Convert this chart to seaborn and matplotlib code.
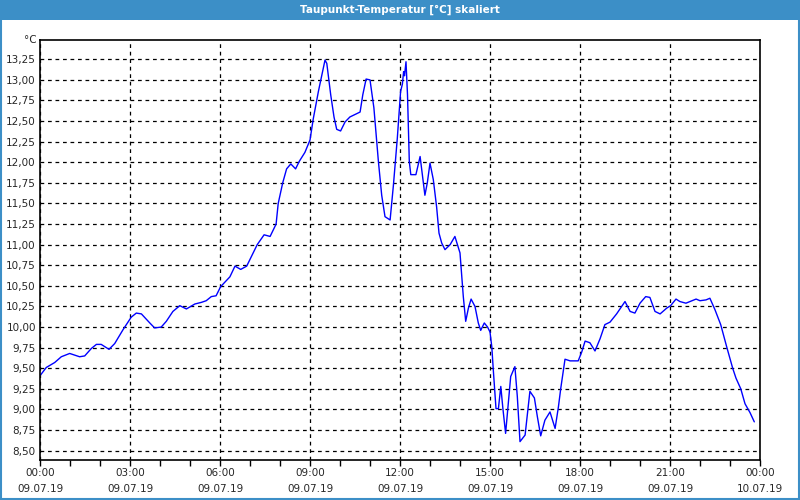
import matplotlib
matplotlib.use("Agg")
import matplotlib.pyplot as plt
from matplotlib.patches import Rectangle
from matplotlib.ticker import MultipleLocator, FixedLocator
import seaborn as sns
import pandas as pd

# time in hours since 09.07.19 00:00
hours = [
    0.00, 0.21, 0.49, 0.71, 0.99, 1.32, 1.49, 1.71, 1.88, 2.04, 2.30, 2.49, 2.77,
    3.04, 3.21, 3.38, 3.66, 3.82, 4.04, 4.21, 4.43, 4.66, 4.88, 5.16, 5.38, 5.54,
    5.71, 5.87, 6.02, 6.33, 6.50, 6.69, 6.89, 7.24, 7.47, 7.67, 7.87, 7.94, 8.09,
    8.22, 8.36, 8.52, 8.64, 8.83, 9.00, 9.11, 9.28, 9.42, 9.50, 9.56, 9.69, 9.80,
    9.89, 10.02, 10.17, 10.33, 10.50, 10.67, 10.76, 10.87, 11.00, 11.13, 11.28,
    11.39, 11.50, 11.67, 11.78, 11.91, 12.02, 12.08, 12.12, 12.15, 12.20, 12.25,
    12.31, 12.36, 12.53, 12.67, 12.78, 12.83, 12.91, 13.00, 13.11, 13.22, 13.30,
    13.39, 13.50, 13.67, 13.83, 14.00, 14.11, 14.19, 14.28, 14.37, 14.50, 14.61,
    14.69, 14.81, 14.92, 15.00, 15.06, 15.11, 15.20, 15.28, 15.36, 15.43, 15.52,
    15.69, 15.83, 15.91, 16.00, 16.17, 16.33, 16.48, 16.58, 16.69, 16.83, 17.00,
    17.17, 17.28, 17.36, 17.50, 17.67, 17.94, 18.06, 18.17, 18.33, 18.50, 18.67,
    18.83, 19.00, 19.22, 19.50, 19.67, 19.83, 20.00, 20.19, 20.33, 20.50, 20.67,
    20.89, 21.02, 21.20, 21.33, 21.53, 21.67, 21.87, 22.00, 22.20, 22.33, 22.50,
    22.69, 22.89, 23.09, 23.20, 23.36, 23.50, 23.67, 23.81,
]
dewpoint = [
    9.41, 9.51, 9.57, 9.64, 9.68, 9.64, 9.65, 9.74, 9.79, 9.79, 9.73, 9.80, 9.97,
    10.12, 10.17, 10.16, 10.05, 9.99, 10.00, 10.07, 10.19, 10.26, 10.22, 10.28, 10.30, 10.32,
    10.37, 10.38, 10.49, 10.61, 10.74, 10.70, 10.74, 11.00, 11.12, 11.10, 11.25, 11.50, 11.75,
    11.92, 11.98, 11.92, 12.01, 12.12, 12.27, 12.53, 12.86, 13.10, 13.24, 13.20, 12.82, 12.55,
    12.40, 12.38, 12.49, 12.55, 12.58, 12.61, 12.82, 13.01, 13.00, 12.66, 12.01,
    11.60, 11.34, 11.30, 11.72, 12.29, 12.86, 12.95, 13.10, 13.05, 13.22, 12.82,
    12.01, 11.85, 11.85, 12.07, 11.75, 11.60, 11.75, 11.99, 11.79, 11.46, 11.14,
    11.02, 10.94, 11.00, 11.10, 10.90, 10.37, 10.07, 10.23, 10.34, 10.25, 10.05,
    9.96, 10.05, 10.00, 9.94, 9.76, 9.48, 9.01, 9.01, 9.28, 9.01, 8.71,
    9.40, 9.52, 9.16, 8.61, 8.69, 9.22, 9.14, 8.91, 8.68, 8.87, 8.97,
    8.77, 9.03, 9.26, 9.61, 9.59, 9.59, 9.70, 9.83, 9.81, 9.71, 9.86,
    10.03, 10.06, 10.16, 10.31, 10.19, 10.17, 10.29, 10.37, 10.36, 10.19, 10.16,
    10.23, 10.26, 10.34, 10.31, 10.29, 10.31, 10.34, 10.32, 10.33, 10.35, 10.21,
    10.03, 9.76, 9.50, 9.38, 9.25, 9.07, 8.96, 8.85,
]
x_tick_hours = [0, 3, 6, 9, 12, 15, 18, 21, 24]
x_tick_labels = ["00:00\n09.07.19", "03:00\n09.07.19", "06:00\n09.07.19",
                 "09:00\n09.07.19", "12:00\n09.07.19", "15:00\n09.07.19",
                 "18:00\n09.07.19", "21:00\n09.07.19", "00:00\n10.07.19"]
y_ticks = [8.50, 8.75, 9.00, 9.25, 9.50, 9.75, 10.00, 10.25, 10.50, 10.75, 11.00,
           11.25, 11.50, 11.75, 12.00, 12.25, 12.50, 12.75, 13.00, 13.25]
title = "Taupunkt-Temperatur [°C] skaliert"
unit = "°C"

sns.set_style("white")
plt.rcParams["font.family"] = ["DejaVu Sans"]

df = pd.DataFrame({"h": hours, "v": dewpoint})

fig = plt.figure(figsize=(8, 5), dpi=100)
fig.patch.set_facecolor("white")
ax = fig.add_axes([40 / 800, 40 / 500, 720 / 800, 420 / 500])

sns.lineplot(data=df, x="h", y="v", ax=ax, color="#0000ff", linewidth=1.0)

ax.set_xlim(0, 24)
ax.set_ylim(8.387, 13.484)
ax.xaxis.set_major_locator(FixedLocator(x_tick_hours))
ax.set_xticklabels(x_tick_labels, fontsize=7.5, linespacing=1.65)
ax.xaxis.set_minor_locator(MultipleLocator(1))
ax.set_yticks(y_ticks)
ax.set_yticklabels([f"{t:.2f}".replace(".", ",") for t in y_ticks], fontsize=7.5)
ax.set_xlabel("")
ax.set_ylabel("")

ax.tick_params(axis="x", which="both", direction="out", length=4, width=1,
               color="black", bottom=True, pad=2)
ax.tick_params(axis="y", which="both", length=0, pad=3)
for s in ax.spines.values():
    s.set_color("black")
    s.set_linewidth(1.2)
    s.set_visible(True)

ax.grid(True, which="major", color="black", linestyle=(0, (3, 3)), linewidth=0.9)
ax.set_axisbelow(True)

ax.text(-0.004, 1.0, unit, transform=ax.transAxes, ha="right", va="center",
        fontsize=7.5)

# title bar and window border
fig.patches.append(Rectangle((0, 1 - 20 / 500), 1, 20 / 500, transform=fig.transFigure,
                             facecolor="#3c8fc7", edgecolor="none", zorder=0))
fig.patches.append(Rectangle((0.001, 0.002), 0.998, 0.996, transform=fig.transFigure,
                             facecolor="none", edgecolor="#3c8fc7", linewidth=1.5, zorder=0))
fig.text(0.5, 1 - 10 / 500, title, ha="center", va="center", color="white",
         fontsize=7.5, fontweight="bold")

fig.savefig("out.png", dpi=100, facecolor=fig.get_facecolor())
